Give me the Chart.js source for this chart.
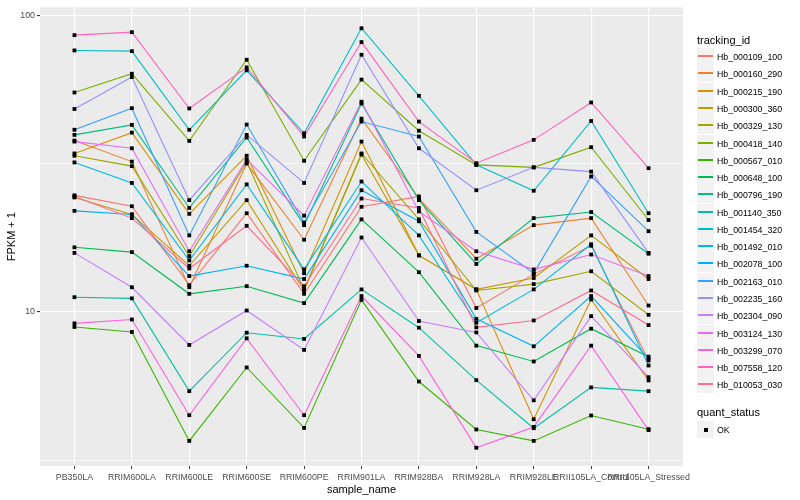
<!DOCTYPE html>
<html>
<head>
<meta charset="utf-8">
<script src="https://cdn.jsdelivr.net/npm/chart.js@4.4.0/dist/chart.umd.min.js"></script>
<style>
  body { margin: 0; background: #fff; }
  #wrap { position: relative; width: 800px; height: 500px; font-family: "Liberation Sans", Arial, sans-serif; }
  #wrap canvas { position: absolute; left: 0; top: 0; }
  .ttl { position: absolute; left: 697px; font-size: 11px; line-height: 13px; color: #000; white-space: nowrap; }
  .key { position: absolute; left: 697px; width: 17px; height: 17px; background: #F2F2F2; }
  .key i { position: absolute; left: 1px; right: 1px; top: 7px; height: 2px; }
  .key b { position: absolute; left: 7px; top: 7px; width: 4px; height: 4px; background: #000; }
  .lab { position: absolute; left: 717px; font-size: 8.8px; line-height: 10px; color: #000; white-space: nowrap; }
</style>
</head>
<body>
<div id="wrap">
  <canvas id="fpkmChart" width="800" height="500"></canvas>
  <div id="legend"></div>
</div>
<script>
const sampleNames = ['PB350LA', 'RRIM600LA', 'RRIM600LE', 'RRIM600SE', 'RRIM600PE', 'RRIM901LA',
    'RRIM928BA', 'RRIM928LA', 'RRIM928LE', 'RRII105LA_Control', 'RRII105LA_Stressed'];

const trackingIds = ['Hb_000109_100', 'Hb_000160_290', 'Hb_000215_190', 'Hb_000300_360', 'Hb_000329_130',
    'Hb_000418_140', 'Hb_000567_010', 'Hb_000648_100', 'Hb_000796_190', 'Hb_001140_350',
    'Hb_001454_320', 'Hb_001492_010', 'Hb_002078_100', 'Hb_002163_010', 'Hb_002235_160',
    'Hb_002304_090', 'Hb_003124_130', 'Hb_003299_070', 'Hb_007558_120', 'Hb_010053_030'];

// FPKM + 1 per sample, same order as sampleNames
const hb_000109_100 = [24.7, 22.7, 12.3, 21.5, 11.5, 22.6, 24.5, 10.3, 13.4, 16.7, 6.85];
const hb_000160_290 = [37.8, 32.1, 12.1, 31.6, 17.5, 44.8, 24.1, 15.1, 19.6, 20.7, 10.5];
const hb_000215_190 = [34.2, 40.2, 21.4, 33.6, 13.5, 37.5, 15.5, 11.9, 4.34, 11.0, 5.87];
const hb_000300_360 = [24.3, 21.3, 14.3, 23.8, 11.8, 33.9, 15.5, 11.9, 13.0, 18.1, 12.9];
const hb_000329_130 = [33.6, 31.0, 15.4, 32.0, 11.9, 34.2, 20.5, 11.8, 12.4, 13.7, 9.77];
const hb_000418_140 = [54.9, 63.5, 37.7, 70.8, 32.3, 60.7, 40.8, 31.3, 30.7, 35.9, 20.4];
const hb_000567_010 = [8.89, 8.55, 3.67, 6.49, 4.06, 10.97, 5.82, 4.01, 3.67, 4.47, 4.02];
const hb_000648_100 = [16.5, 15.9, 11.5, 12.2, 10.7, 20.5, 13.6, 7.69, 6.80, 8.77, 7.06];
const hb_000796_190 = [39.5, 42.7, 22.4, 38.7, 19.6, 50.4, 23.8, 14.5, 20.7, 21.7, 15.7];
const hb_001140_350 = [11.2, 11.1, 5.40, 8.50, 8.10, 11.9, 8.84, 5.88, 4.05, 5.56, 5.40];
const hb_001454_320 = [76.1, 75.7, 41.1, 65.2, 40.0, 90.4, 53.5, 31.3, 25.6, 44.0, 21.5];
const hb_001492_010 = [31.9, 27.2, 14.9, 26.9, 13.9, 27.5, 18.1, 9.19, 11.9, 16.9, 6.59];
const hb_002078_100 = [21.9, 21.3, 13.2, 14.3, 12.9, 25.7, 20.2, 9.47, 7.65, 11.3, 6.95];
const hb_002163_010 = [41.1, 48.6, 18.1, 42.8, 20.0, 43.8, 39.0, 18.6, 13.5, 28.6, 18.7];
const hb_002235_160 = [48.3, 61.9, 23.8, 39.5, 27.2, 73.6, 35.6, 25.7, 30.7, 29.7, 15.8];
const hb_002304_090 = [15.8, 12.1, 7.73, 10.1, 7.44, 17.8, 9.31, 8.52, 5.03, 9.67, 6.02];
const hb_003124_130 = [37.5, 35.6, 16.0, 32.6, 21.1, 51.1, 21.8, 16.0, 13.9, 15.6, 13.2];
const hb_003299_070 = [9.14, 9.42, 4.48, 8.14, 4.48, 11.3, 7.10, 3.48, 4.09, 7.69, 3.99];
const hb_007558_120 = [85.7, 87.7, 48.5, 66.7, 39.0, 81.2, 43.8, 31.7, 38.0, 50.8, 30.5];
const hb_010053_030 = [24.5, 20.7, 14.0, 19.5, 12.2, 24.1, 22.4, 8.86, 9.35, 11.8, 9.02];

const fpkmSeries = [hb_000109_100, hb_000160_290, hb_000215_190, hb_000300_360, hb_000329_130,
    hb_000418_140, hb_000567_010, hb_000648_100, hb_000796_190, hb_001140_350,
    hb_001454_320, hb_001492_010, hb_002078_100, hb_002163_010, hb_002235_160,
    hb_002304_090, hb_003124_130, hb_003299_070, hb_007558_120, hb_010053_030];

const yTickValues = [10, 100];
const yMinorBreaks = [3.162, 31.62];
const quantStatus = ['OK'];

// ggplot default hue palette, 20 levels
const lineColors = ['#F8766D', '#EA8331', '#D89000', '#C09B00', '#A3A500', '#7CAE00', '#39B600',
    '#00BB4E', '#00BF7D', '#00C1A3', '#00BFC4', '#00BAE0', '#00B0F6', '#35A2FF', '#9590FF',
    '#C77CFF', '#E76BF3', '#FA62DB', '#FF62BC', '#FF6C91'];

const panelBg = {
    id: 'panelBg',
    beforeDraw(chart) {
        const { ctx, chartArea: a } = chart;
        ctx.save();
        ctx.fillStyle = '#EBEBEB';
        ctx.fillRect(a.left, a.top, a.right - a.left, a.bottom - a.top);
        ctx.restore();
    }
};

// points on top of every line, like geom_point after geom_line
const okPoints = {
    id: 'okPoints',
    afterDatasetsDraw(chart) {
        const ctx = chart.ctx;
        ctx.save();
        ctx.fillStyle = '#000000';
        chart.data.datasets.forEach((d, i) => {
            chart.getDatasetMeta(i).data.forEach(p => {
                ctx.fillRect(p.x - 1.9, p.y - 1.9, 3.8, 3.8);
            });
        });
        ctx.restore();
    }
};

Chart.defaults.font.family = '"Liberation Sans", Arial, sans-serif';

new Chart(document.getElementById('fpkmChart'), {
    type: 'line',
    data: {
        datasets: fpkmSeries.map((vals, i) => ({
            label: trackingIds[i],
            data: vals.map((v, j) => ({ x: j, y: v })),
            borderColor: lineColors[i],
            borderWidth: 1.1,
            pointRadius: 0,
            fill: false,
            tension: 0,
            order: fpkmSeries.length - i
        }))
    },
    options: {
        responsive: false,
        animation: false,
        events: [],
        layout: { padding: { left: 0, right: 117, top: 5, bottom: 0 } },
        plugins: {
            legend: { display: false },
            tooltip: { enabled: false }
        },
        scales: {
            x: {
                type: 'linear',
                min: -0.6,
                max: sampleNames.length - 0.4,
                afterBuildTicks: s => { s.ticks = sampleNames.map((n, i) => ({ value: i })); },
                afterFit: s => { s.height = 34; },
                grid: { color: '#FFFFFF', lineWidth: 1.1, tickLength: 3, tickColor: '#333333', tickWidth: 1 },
                border: { display: false },
                ticks: {
                    autoSkip: false, maxRotation: 0, minRotation: 0, padding: 3,
                    color: '#4D4D4D', font: { size: 8.8 },
                    callback: v => sampleNames[v] ?? ''
                },
                title: { display: true, text: 'sample_name', color: '#000000', font: { size: 11 }, padding: { top: 0, bottom: 3.5 } }
            },
            y: {
                type: 'logarithmic',
                min: 3.02,
                max: 106.4,
                afterBuildTicks: s => {
                    s.ticks = [yMinorBreaks[0], yTickValues[0], yMinorBreaks[1], yTickValues[1]].map(v => ({ value: v }));
                },
                afterFit: s => { s.width = 40; },
                grid: {
                    color: '#FFFFFF',
                    lineWidth: c => yTickValues.includes(c.tick.value) ? 1.1 : 0.55,
                    tickColor: c => yTickValues.includes(c.tick.value) ? '#333333' : 'rgba(0,0,0,0)',
                    tickLength: 3
                },
                border: { display: false },
                ticks: {
                    padding: 2, color: '#4D4D4D', font: { size: 8.8 },
                    callback: v => yTickValues.includes(v) ? String(v) : ''
                },
                title: { display: true, text: 'FPKM + 1', color: '#000000', font: { size: 11 }, padding: { top: 5, bottom: 0 } }
            }
        }
    },
    plugins: [panelBg, okPoints]
});

// legend, ggplot style
const legend = document.getElementById('legend');
let html = '<div class="ttl" style="top:33.5px">tracking_id</div>';
trackingIds.forEach((id, i) => {
    const top = Math.round(48.1 + i * 17.28);
    html += '<div class="key" style="top:' + top + 'px"><i style="background:' + lineColors[i] + '"></i></div>';
    html += '<div class="lab" style="top:' + (top + 3.6) + 'px">' + id + '</div>';
});
html += '<div class="ttl" style="top:406px">quant_status</div>';
quantStatus.forEach((q, i) => {
    const top = Math.round(420.7 + i * 17.28);
    html += '<div class="key" style="top:' + top + 'px"><b></b></div>';
    html += '<div class="lab" style="top:' + (top + 3.6) + 'px">' + q + '</div>';
});
legend.innerHTML = html;
</script>
</body>
</html>
